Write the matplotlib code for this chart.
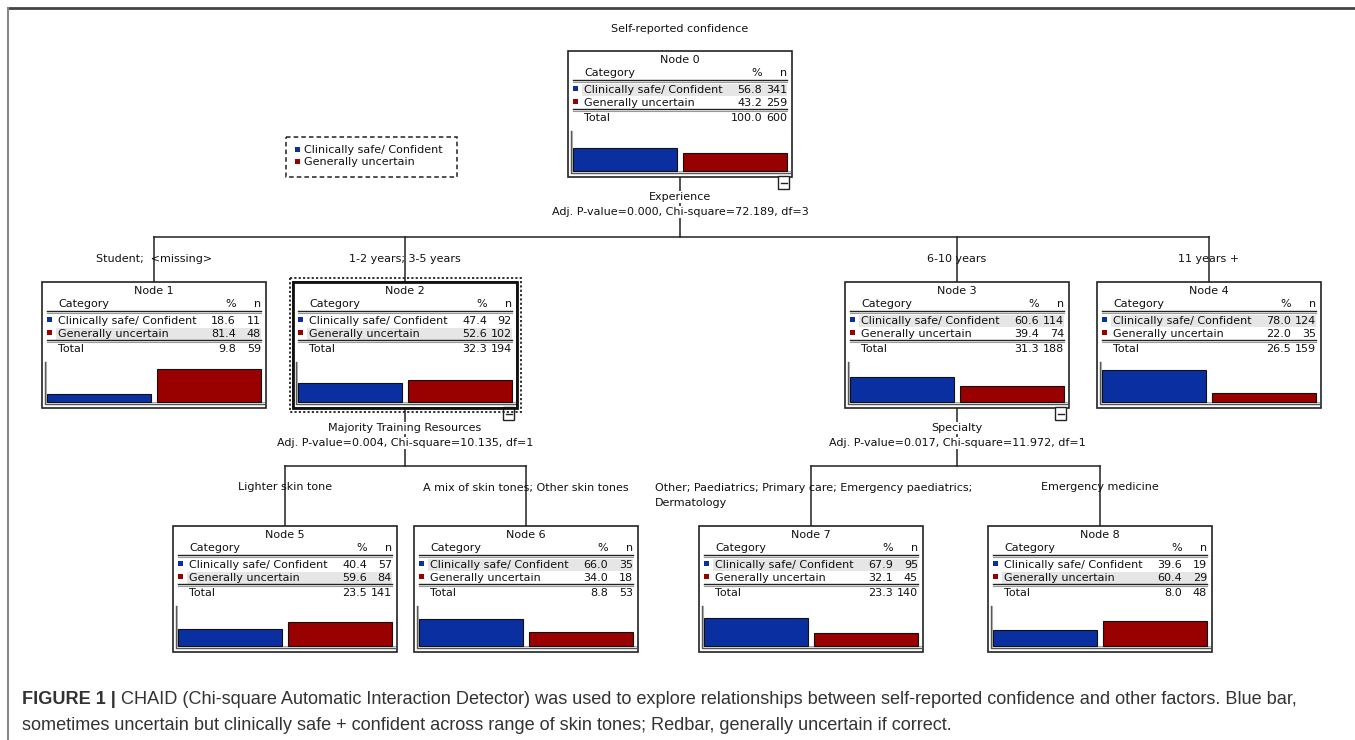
import matplotlib
matplotlib.use("Agg")
import matplotlib.pyplot as plt
from matplotlib.patches import Rectangle

node_ids = [0, 1, 2, 3, 4, 5, 6, 7, 8]
categories = ["Clinically safe/ Confident", "Generally uncertain"]
pct_safe = [56.8, 18.6, 47.4, 60.6, 78.0, 40.4, 66.0, 67.9, 39.6]
n_safe = [341, 11, 92, 114, 124, 57, 35, 95, 19]
pct_unc = [43.2, 81.4, 52.6, 39.4, 22.0, 59.6, 34.0, 32.1, 60.4]
n_unc = [259, 48, 102, 74, 35, 84, 18, 45, 29]
pct_total = [100.0, 9.8, 32.3, 31.3, 26.5, 23.5, 8.8, 23.3, 8.0]
n_total = [600, 59, 194, 188, 159, 141, 53, 140, 48]

split_vars = {0: "Experience", 2: "Majority Training Resources", 3: "Specialty"}
split_stats = {
    0: "Adj. P-value=0.000, Chi-square=72.189, df=3",
    2: "Adj. P-value=0.004, Chi-square=10.135, df=1",
    3: "Adj. P-value=0.017, Chi-square=11.972, df=1",
}
children = {0: [1, 2, 3, 4], 2: [5, 6], 3: [7, 8]}
branch_labels = {
    1: "Student;  <missing>",
    2: "1-2 years; 3-5 years",
    3: "6-10 years",
    4: "11 years +",
    5: "Lighter skin tone",
    6: "A mix of skin tones; Other skin tones",
    7: "Other; Paediatrics; Primary care; Emergency paediatrics;\nDermatology",
    8: "Emergency medicine",
}

BLUE = "#0a2fa0"
RED = "#990000"
HILITE = "#e6e6e6"
TXT = "#111111"

# box placement (left, top) in pixel space
box_pos = {
    0: (568, 51), 1: (42, 282), 2: (293, 282), 3: (845, 282), 4: (1097, 282),
    5: (173, 526), 6: (414, 526), 7: (699, 526), 8: (988, 526),
}
branch_y = {0: 237, 2: 466, 3: 466}
BW, BH = 224, 126

W, H = 1355, 740
fig = plt.figure(figsize=(W / 100, H / 100), dpi=100)
ax = fig.add_axes([0, 0, 1, 1])
ax.set_xlim(0, W)
ax.set_ylim(H, 0)
ax.axis("off")

tfont = dict(family="DejaVu Sans", fontsize=8, color=TXT)


def center_x(i):
    return box_pos[i][0] + BW / 2


def draw_node(i):
    L, T = box_pos[i]
    ax.add_patch(Rectangle((L, T), BW, BH, fill=True, fc="white", ec="#222222", lw=1.2, zorder=3))
    cx = L + BW / 2
    ax.text(cx, T + 9, f"Node {node_ids[i]}", ha="center", va="center", zorder=5, **tfont)
    ax.text(L + 16, T + 22, "Category", ha="left", va="center", zorder=5, **tfont)
    ax.text(L + 194, T + 22, "%", ha="right", va="center", zorder=5, **tfont)
    ax.text(L + 219, T + 22, "n", ha="right", va="center", zorder=5, **tfont)
    ax.plot([L + 5, L + 219], [T + 29, T + 29], color="#222222", lw=1.0, zorder=5)
    ax.plot([L + 5, L + 219], [T + 30.5, T + 30.5], color="#999999", lw=0.8, zorder=5)
    rows = [(categories[0], pct_safe[i], n_safe[i], BLUE),
            (categories[1], pct_unc[i], n_unc[i], RED)]
    best = 0 if pct_safe[i] >= pct_unc[i] else 1
    for r, (lab, p, n, col) in enumerate(rows):
        y = T + 39 + 13 * r
        if r == best:
            ax.add_patch(Rectangle((L + 14, y - 6), 205, 12, fc=HILITE, ec="none", zorder=4))
        ax.add_patch(Rectangle((L + 5, y - 4), 5, 5, fc=col, ec="none", zorder=5))
        ax.text(L + 16, y, lab, ha="left", va="center", zorder=5, **tfont)
        ax.text(L + 194, y, f"{p:.1f}", ha="right", va="center", zorder=5, **tfont)
        ax.text(L + 219, y, f"{n}", ha="right", va="center", zorder=5, **tfont)
    ax.plot([L + 5, L + 219], [T + 58, T + 58], color="#222222", lw=1.0, zorder=5)
    ax.plot([L + 5, L + 219], [T + 59.5, T + 59.5], color="#999999", lw=0.8, zorder=5)
    ax.text(L + 16, T + 67, "Total", ha="left", va="center", zorder=5, **tfont)
    ax.text(L + 194, T + 67, f"{pct_total[i]:.1f}", ha="right", va="center", zorder=5, **tfont)
    ax.text(L + 219, T + 67, f"{n_total[i]}", ha="right", va="center", zorder=5, **tfont)
    # bar chart frame
    base = T + 120
    full = 41
    ax.plot([L + 2.5, L + 2.5, L + BW - 2.5], [T + 80, base + 1.5, base + 1.5], color="#555555", lw=1.0, zorder=5)
    ax.plot([L + 4, L + 4, L + BW - 2.5], [T + 80, base + 0.2, base + 0.2], color="#aaaaaa", lw=0.8, zorder=5)
    half = (BW - 10) / 2
    for k, (p, col) in enumerate([(pct_safe[i], BLUE), (pct_unc[i], RED)]):
        h = p / 100 * full
        x0 = L + 5 + k * (half + 3)
        ax.add_patch(Rectangle((x0, base - h), half - 3, h, fc=col, ec="#111111", lw=0.8, zorder=6))


def draw_minus(L, T):
    ax.add_patch(Rectangle((L, T), 11, 13, fc="white", ec="#222222", lw=1.0, zorder=6))
    ax.plot([L + 2.5, L + 8.5], [T + 6.5, T + 6.5], color="#222222", lw=1.0, zorder=7)


# title and legend
ax.text(680, 29, "Self-reported confidence", ha="center", va="center", **tfont)
ax.add_patch(Rectangle((286, 137), 171, 40, fill=False, ec="#222222", lw=1.1, ls=(0, (3, 2))))
for r, (lab, col) in enumerate(zip(categories, [BLUE, RED])):
    y = 150 + 12 * r
    ax.add_patch(Rectangle((295, y - 3), 5, 5, fc=col, ec="none"))
    ax.text(304, y, lab, ha="left", va="center", **tfont)

# edges of the tree
for parent, kids in children.items():
    px = center_x(parent)
    pb = box_pos[parent][1] + BH
    hy = branch_y[parent]
    ax.plot([px, px], [pb, hy], color="#222222", lw=1.1, zorder=1)
    ax.plot([center_x(kids[0]), center_x(kids[-1])], [hy, hy], color="#222222", lw=1.1, zorder=1)
    ax.text(px, pb + 20, split_vars[parent], ha="center", va="center", zorder=2,
            bbox=dict(fc="white", ec="none", pad=0.5), **tfont)
    ax.text(px, pb + 35, split_stats[parent], ha="center", va="center", zorder=2,
            bbox=dict(fc="white", ec="none", pad=0.5), **tfont)
    draw_minus(box_pos[parent][0] + BW - 14, pb - 1)
    for k in kids:
        kx = center_x(k)
        ax.plot([kx, kx], [hy, box_pos[k][1]], color="#222222", lw=1.1, zorder=1)
        if k == 7:
            ax.text(655, hy + 29.5, branch_labels[k], ha="left", va="center", linespacing=1.55, zorder=2, **tfont)
        else:
            ax.text(kx, hy + 21.5, branch_labels[k], ha="center", va="center", zorder=2, **tfont)

for i in range(len(node_ids)):
    draw_node(i)

# selected node gets dotted frame
L2, T2 = box_pos[2]
ax.add_patch(Rectangle((L2 - 3.5, T2 - 4), BW + 7, BH + 8, fill=False, ec="#222222", lw=1.3, ls=(0, (1.2, 1.2)), zorder=7))
ax.add_patch(Rectangle((L2, T2), BW, BH, fill=False, ec="#111111", lw=2.0, zorder=7))

# outer frame
ax.plot([8, W], [8, 8], color="#444444", lw=2.0)
ax.plot([8, 8], [8, H], color="#888888", lw=1.5)

# caption
cap = dict(family="Liberation Sans", fontsize=13.1, color="#333333")
t = ax.text(22, 700, "FIGURE 1 | ", ha="left", va="center", fontweight="bold", **cap)
fig.canvas.draw()
bb = t.get_window_extent()
x_after = bb.x1
ax.text(x_after, 700, "CHAID (Chi-square Automatic Interaction Detector) was used to explore relationships between "
        "self-reported confidence and other factors. Blue bar,", ha="left", va="center", **cap)
ax.text(22, 725, "sometimes uncertain but clinically safe + confident across range of skin tones; Redbar, "
        "generally uncertain if correct.", ha="left", va="center", **cap)

fig.savefig("out.png", dpi=100)
